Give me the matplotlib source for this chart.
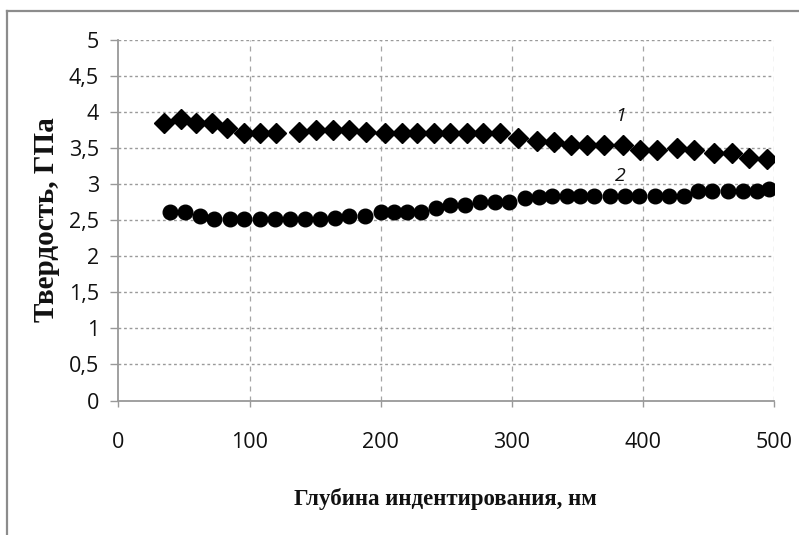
import matplotlib
matplotlib.use("Agg")
import matplotlib.pyplot as plt
from matplotlib.lines import Line2D

# Series 1 (diamonds)
x1 = [35, 48, 59, 71, 83, 96, 108, 120, 138, 151, 164, 176, 189, 203, 216, 228, 241, 253,
      266, 278, 291, 305, 319, 332, 345, 357, 370, 385, 398, 411, 426, 439, 454, 468, 481, 495]
y1 = [3.85, 3.91, 3.85, 3.85, 3.78, 3.71, 3.71, 3.71, 3.72, 3.75, 3.75, 3.75, 3.72, 3.71,
      3.71, 3.71, 3.71, 3.71, 3.71, 3.71, 3.71, 3.64, 3.60, 3.58, 3.55, 3.55, 3.55, 3.54,
      3.48, 3.48, 3.50, 3.48, 3.43, 3.43, 3.36, 3.35]

# Series 2 (circles)
x2 = [39, 51, 62, 73, 85, 96, 108, 119, 131, 142, 154, 165, 176, 188, 200, 210, 220, 231,
      242, 253, 264, 276, 287, 298, 310, 321, 331, 342, 352, 363, 375, 386, 397, 409, 420,
      431, 442, 453, 465, 476, 487, 496]
y2 = [2.62, 2.62, 2.56, 2.52, 2.52, 2.52, 2.52, 2.52, 2.52, 2.52, 2.52, 2.53, 2.56, 2.56,
      2.61, 2.61, 2.61, 2.61, 2.67, 2.71, 2.71, 2.75, 2.75, 2.76, 2.81, 2.82, 2.84, 2.84,
      2.84, 2.84, 2.84, 2.84, 2.84, 2.84, 2.84, 2.84, 2.90, 2.90, 2.90, 2.90, 2.90, 2.94]

xticks = [0, 100, 200, 300, 400, 500]
yticks = [0, 0.5, 1, 1.5, 2, 2.5, 3, 3.5, 4, 4.5, 5]
ytick_labels = ["0", "0,5", "1", "1,5", "2", "2,5", "3", "3,5", "4", "4,5", "5"]

series_labels = ["1", "2"]
label_pos = [(383, 3.94), (383, 3.11)]

tick_font = ["Open Sans", "DejaVu Sans"]
title_font = ["Liberation Serif", "DejaVu Serif"]

fig = plt.figure(figsize=(7.99, 5.35), dpi=100)
ax = fig.add_axes([0.1483, 0.2514, 0.8204, 0.6738])

ax.plot(x1, y1, linestyle="none", marker="D", markersize=10, color="black", zorder=3)
ax.plot(x2, y2, linestyle="none", marker="o", markersize=10.5, color="black", zorder=3)

ax.set_xlim(0, 500)
ax.set_ylim(0, 5)
ax.set_xticks(xticks)
ax.set_xticklabels([str(v) for v in xticks], family=tick_font, fontsize=15.5, color="#111111")
ax.set_yticks(yticks)
ax.set_yticklabels(ytick_labels, family=tick_font, fontsize=15.5, color="#111111")

ax.tick_params(axis="x", direction="out", length=4, width=1, color="#999999", pad=19)
ax.tick_params(axis="y", direction="out", length=6, width=1, color="#999999", pad=8)

for s in ["top", "right"]:
    ax.spines[s].set_visible(False)
for s in ["left", "bottom"]:
    ax.spines[s].set_color("#999999")
    ax.spines[s].set_linewidth(1.3)

ax.yaxis.grid(True, linestyle=(0, (2, 2)), color="#9a9a9a", linewidth=1)
ax.xaxis.grid(True, linestyle=(0, (4, 4)), color="#a5a5a5", linewidth=0.9)
ax.set_axisbelow(True)
for gl in ax.yaxis.get_gridlines()[:1]:
    gl.set_visible(False)
for gl in ax.xaxis.get_gridlines()[:1]:
    gl.set_visible(False)

for lab, (lx, ly) in zip(series_labels, label_pos):
    ax.text(lx, ly, lab, fontsize=14, style="italic", family=["Open Sans", "DejaVu Sans"],
            ha="center", va="center", color="#111111")

fig.text(0.557, 0.067, "Глубина индентирования, нм", family=title_font, fontweight="bold",
         fontsize=16.5, ha="center", va="center", color="#111111")
fig.text(0.058, 0.589, "Твердость, ГПа", family=title_font, fontweight="bold",
         fontsize=21, ha="center", va="center", rotation=90, color="#111111")

# outer frame (top and left edges)
fig.add_artist(Line2D([6.5 / 799, 1.0], [1 - 10.5 / 535, 1 - 10.5 / 535],
                      transform=fig.transFigure, color="#8c8c8c", linewidth=1.6))
fig.add_artist(Line2D([6.5 / 799, 6.5 / 799], [0.0, 1 - 10.5 / 535],
                      transform=fig.transFigure, color="#8c8c8c", linewidth=1.6))

fig.savefig("out.png", dpi=100)
